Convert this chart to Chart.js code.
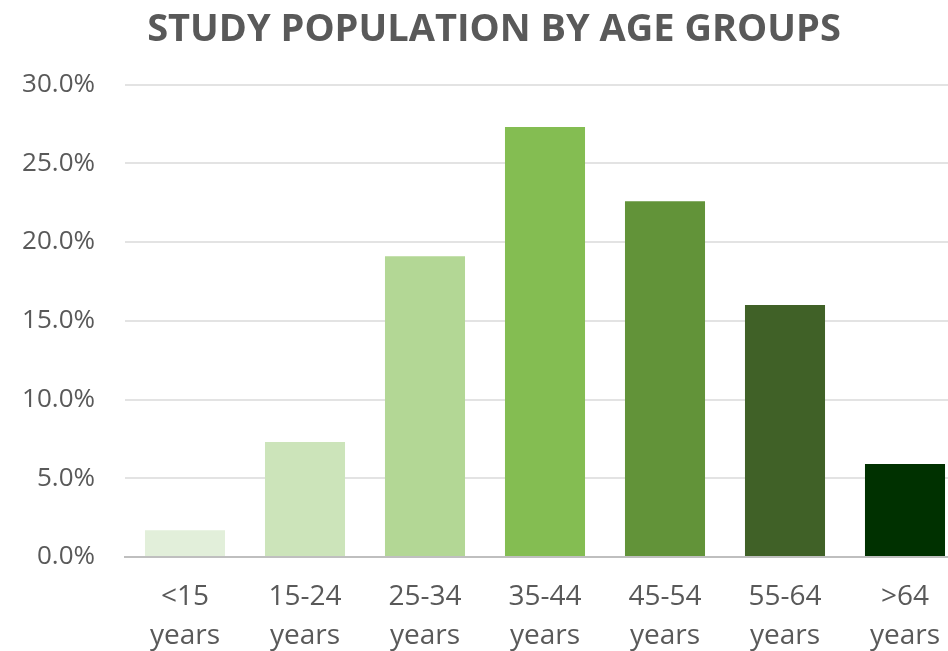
<!DOCTYPE html>
<html>
<head>
<meta charset="utf-8">
<script src="https://cdn.jsdelivr.net/npm/chart.js@4/dist/chart.umd.min.js"></script>
<style>
  html, body { margin: 0; padding: 0; overflow: hidden; background: #fff; }
  #wrap { width: 965px; height: 670px; position: relative; }
</style>
</head>
<body>
<div id="wrap"><canvas id="ageChart"></canvas></div>
<script>
const ageGroups = [['<15', 'years'], ['15-24', 'years'], ['25-34', 'years'], ['35-44', 'years'],
  ['45-54', 'years'], ['55-64', 'years'], ['>64', 'years']];
const shares = [1.7, 7.3, 19.1, 27.3, 22.6, 16.0, 5.9];
const barColors = ['#E2EFDA', '#CCE4BA', '#B3D795', '#84BD52', '#629339', '#406127', '#003100'];
const yMax = 30;
const yStep = 5;

const textColor = '#595959';

new Chart(document.getElementById('ageChart'), {
  type: 'bar',
  data: {
    labels: ageGroups,
    datasets: [{
      data: shares,
      backgroundColor: barColors,
      barPercentage: 0.667,
      categoryPercentage: 1
    }]
  },
  options: {
    responsive: true,
    maintainAspectRatio: false,
    animation: false,
    layout: { padding: { left: 23, right: 0, top: 0, bottom: 0 } },
    plugins: {
      legend: { display: false },
      tooltip: { enabled: false },
      title: {
        display: true,
        text: 'STUDY POPULATION BY AGE GROUPS',
        color: textColor,
        font: { family: 'Open Sans', size: 38, weight: 'bold', lineHeight: 1.2 },
        padding: { top: 7, bottom: 32 }
      }
    },
    scales: {
      x: {
        grid: { display: false, drawTicks: false },
        border: { display: true, color: '#BFBFBF', width: 2 },
        ticks: {
          color: textColor,
          padding: 21,
          maxRotation: 0,
          autoSkip: false,
          font: { family: 'Open Sans', size: 28, lineHeight: 1.39 }
        },
        afterFit: (scale) => { scale.height = 113; }
      },
      y: {
        min: 0,
        max: yMax,
        grid: { color: '#E3E3E3', lineWidth: 2, drawTicks: false },
        border: { display: false },
        ticks: {
          stepSize: yStep,
          color: textColor,
          padding: 30,
          font: { family: 'Open Sans', size: 26 },
          callback: (v) => v.toFixed(1) + '%'
        },
        afterFit: (scale) => { scale.width = 102; }
      }
    }
  }
});
</script>
</body>
</html>
